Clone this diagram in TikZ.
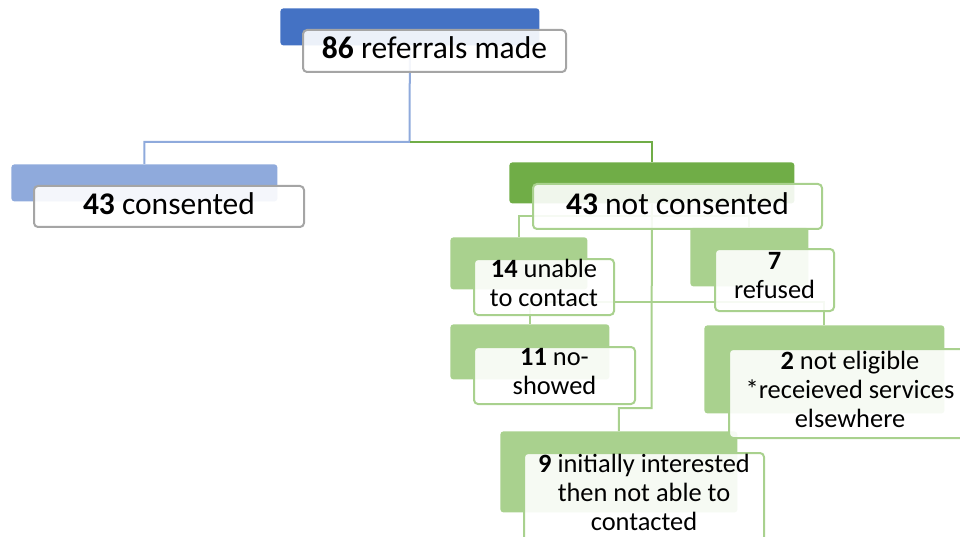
\documentclass[tikz,border=0pt]{standalone}
\usepackage{fontspec}
\setmainfont{Carlito}

\definecolor{topblue}{HTML}{4472C4}
\definecolor{softblue}{HTML}{8FAADC}
\definecolor{topgreen}{HTML}{70AD47}
\definecolor{softgreen}{HTML}{A9D18E}
\definecolor{boxgray}{HTML}{A5A5A5}

\begin{document}
\begin{tikzpicture}[x=1pt,y=-1pt,thick,
            back node/.style={rectangle,rounded corners=3pt,inner sep=0pt,anchor=north west},
            front node/.style={rectangle,rounded corners=4pt,line width=2pt,fill=white,
                fill opacity=0.9,text opacity=1,inner sep=0pt,anchor=north west,align=center,
                execute at begin node=\strut,execute at end node=\strut},
            big text/.style={font=\fontsize{31.5}{38}\selectfont},
            small text/.style={font=\fontsize{26.4}{29}\selectfont}]

        \useasboundingbox (0,0) rectangle (960,537);

        % Define back blocks
        \node[back node,fill=topblue,minimum width=259pt,minimum height=37pt] (86b) at (280,8) {};
        \node[back node,fill=softblue,minimum width=266pt,minimum height=37pt] (43cb) at (11,164) {};
        \node[back node,fill=topgreen,minimum width=285pt,minimum height=41pt] (43nb) at (509,162) {};
        \node[back node,fill=softgreen,minimum width=137pt,minimum height=52pt] (14b) at (450,237) {};
        \node[back node,fill=softgreen,minimum width=118pt,minimum height=59pt] (7b) at (690,227) {};
        \node[back node,fill=softgreen,minimum width=159pt,minimum height=55pt] (11b) at (450,324) {};
        \node[back node,fill=softgreen,minimum width=240pt,minimum height=88pt] (2b) at (704,325) {};
        \node[back node,fill=softgreen,minimum width=237pt,minimum height=81pt] (9b) at (500,431) {};

        % Draw edges
        \coordinate (split) at (409.5,142);
        \coordinate (row1) at (651.5,216);
        \coordinate (row2) at (651.5,302);
        \coordinate (row3) at (651.5,408);
        \begin{scope}[line width=2pt]
            \draw[softblue] (86b.south) -- (split) -| (43cb.north);
            \draw[topgreen] (split) -| (43nb.north);
            \draw[softgreen] (43nb.south) -- (row3) -| (9b.north);
            \draw[softgreen] (14b.north) |- (row1) -| (7b.north);
            \draw[softgreen] (11b.north) |- (row2) -| (2b.north);
        \end{scope}

        % Define boxes
        \node[front node,draw=boxgray,big text,minimum width=263pt,minimum height=42pt] (86) at (302,29) {\textbf{86} referrals made};
        \node[front node,draw=boxgray,big text,minimum width=270pt,minimum height=41pt] (43c) at (33,185) {\textbf{43} consented};
        \node[front node,draw=softgreen,big text,minimum width=289pt,minimum height=45pt] (43n) at (532,183) {\textbf{43} not consented};
        \node[front node,draw=softgreen,small text,minimum width=140pt,minimum height=56pt] (14) at (473,258) {\textbf{14} unable\\to contact};
        \node[front node,draw=softgreen,small text,minimum width=119pt,minimum height=62pt] (7) at (714,248) {\textbf{7}\\refused};
        \node[front node,draw=softgreen,small text,minimum width=161pt,minimum height=57pt] (11) at (473,346) {\textbf{11} no-\\showed};
        \node[front node,draw=softgreen,small text,minimum width=242pt,minimum height=89pt] (2) at (728,348) {\textbf{2} not eligible\\*receieved services\\elsewhere};
        \node[front node,draw=softgreen,small text,minimum width=240pt,minimum height=88pt] (9) at (523,452) {\textbf{9} initially interested\\then not able to\\contacted};

\end{tikzpicture}
\end{document}
